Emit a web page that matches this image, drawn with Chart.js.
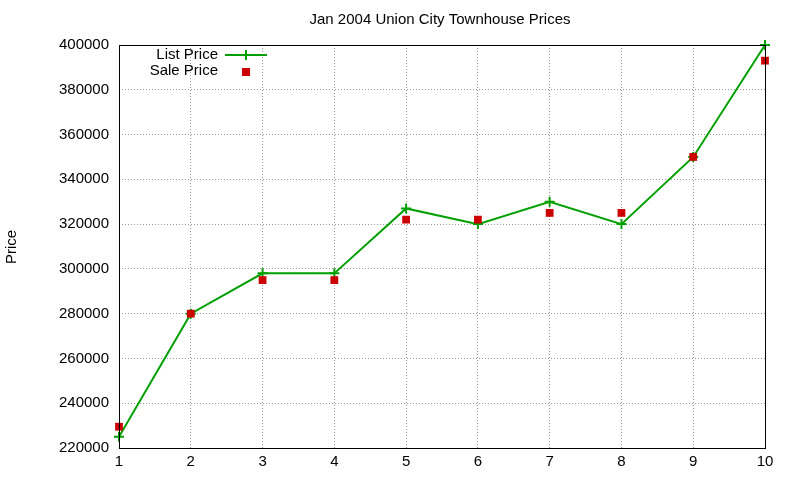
<!DOCTYPE html>
<html><head><meta charset="utf-8">
<script src="https://cdn.jsdelivr.net/npm/chart.js@4"></script>
<style>html,body{margin:0;padding:0;background:#fff}#w{width:800px;height:480px}</style>
</head><body><div id="w"><canvas id="c"></canvas></div>
<script>
const categories = [1,2,3,4,5,6,7,8,9,10];
const listPrice = [225000,280000,298000,298000,327000,320000,330000,320000,350000,400000];
const salePrice = [229500,280000,295000,295000,322000,322000,325000,325000,350000,393000];
const yTicks = [220000,240000,260000,280000,300000,320000,340000,360000,380000,400000];
const FONT = '"Liberation Sans", Arial, sans-serif';
const deco = {
  id:'deco',
  afterDraw(ch){
    const c=ch.ctx,a=ch.chartArea;
    c.save();
    c.strokeStyle='#000';c.lineWidth=1;
    c.strokeRect(a.left+0.5,a.top+0.5,a.right-a.left,a.bottom-a.top);
    c.fillStyle='#000';c.font='15px '+FONT;c.textAlign='center';c.textBaseline='middle';
    c.fillText('Jan 2004 Union City Townhouse Prices',440,20);
    c.translate(12,247);c.rotate(-Math.PI/2);c.fillText('Price',0,0);
    c.restore();
    c.save();
    c.font='15px '+FONT;c.textAlign='right';c.textBaseline='middle';c.fillStyle='#000';
    c.fillText('List Price',218,55);c.fillText('Sale Price',218,71);
    c.strokeStyle='#00a000';c.lineWidth=2;
    c.beginPath();c.moveTo(225,55);c.lineTo(267,55);c.moveTo(246,50);c.lineTo(246,60);c.stroke();
    c.fillStyle='#cc0000';c.fillRect(242,68,8,8);
    c.restore();
  }
};
new Chart(document.getElementById('c'),{
  type:'scatter',
  data:{datasets:[
    {label:'List Price',data:categories.map((x,i)=>({x,y:listPrice[i]})),showLine:true,clip:false,borderColor:'#00a000',backgroundColor:'#00a000',borderWidth:2,pointStyle:'cross',pointRadius:5,pointBorderWidth:2,order:2},
    {label:'Sale Price',data:categories.map((x,i)=>({x,y:salePrice[i]})),showLine:false,clip:false,borderColor:'#cc0000',backgroundColor:'#cc0000',pointStyle:'rect',pointRadius:5.5,pointBorderWidth:0,order:1}
  ]},
  options:{
    responsive:true,maintainAspectRatio:false,animation:false,
    layout:{padding:{top:45,right:35,left:0,bottom:0}},
    plugins:{legend:{display:false},tooltip:{enabled:false}},
    scales:{
      x:{type:'linear',min:1,max:10,
        afterFit(s){s.height=32;},
        afterBuildTicks(s){s.ticks=categories.map(v=>({value:v}));},
        grid:{color:'#999',drawTicks:false},border:{display:false,dash:[1,2]},
        ticks:{color:'#000',font:{size:15,family:FONT},padding:5}},
      y:{min:220000,max:400000,
        afterFit(s){s.width=119;},
        afterBuildTicks(s){s.ticks=yTicks.map(v=>({value:v}));},
        grid:{color:'#999',drawTicks:false},border:{display:false,dash:[1,2]},
        ticks:{color:'#000',font:{size:15,family:FONT},padding:10,callback:v=>String(v)}}
    }
  },
  plugins:[deco]
});
</script></body></html>
